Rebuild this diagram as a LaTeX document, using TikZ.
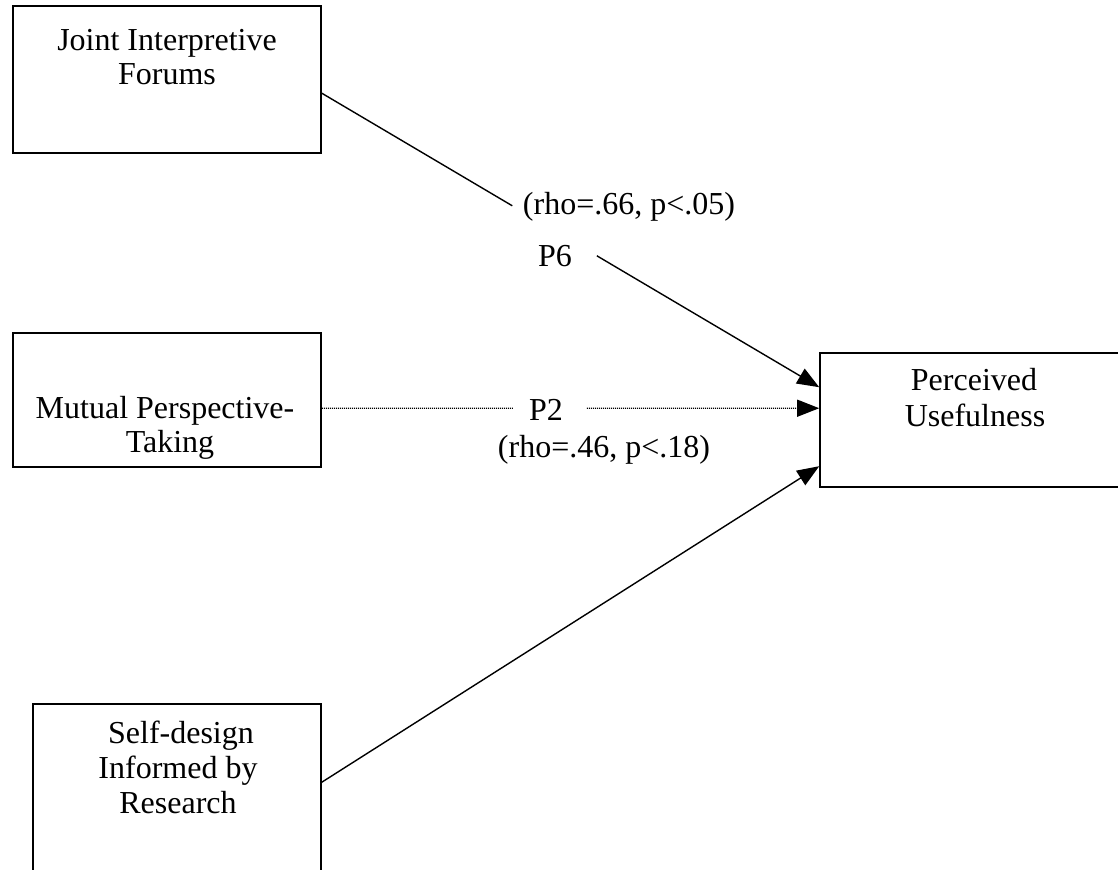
\documentclass[tikz,border=0pt]{standalone}
\usepackage{fontspec}
\setmainfont{Liberation Serif}
\usetikzlibrary{arrows.meta,calc}
\begin{document}
\begin{tikzpicture}[x=0.5pt,y=-0.5pt,
  box/.style={draw, line width=0.8pt, rectangle, inner sep=0pt},
  lbl/.style={anchor=base, inner sep=0pt, font=\fontsize{16}{17.5}\selectfont},
  conn/.style={line width=0.7pt},
  tipped/.style={-{Triangle[length=11pt,width=8.5pt]}},
  dots/.style={line width=0.6pt, dash pattern=on 0.5pt off 0.5pt}]
\clip (0,0) rectangle (1118,869);
% boxes
\node[box, minimum width=154pt, minimum height=73.5pt] (jif) at (167,79.5) {};
\node[box, minimum width=154pt, minimum height=67pt] (mpt) at (167,400) {};
\node[box, minimum width=144pt, minimum height=93pt] (sdr) at (177,797) {};
\node[box, minimum width=155pt, minimum height=67pt] (pu) at (975,420) {};
% box texts
\node[lbl] (jif1) at (167,50) {Joint Interpretive};
\node[lbl] (jif2) at (167,84) {Forums};
\node[lbl] (mpt1) at (165,418) {Mutual Perspective-};
\node[lbl] (mpt2) at (170,452) {Taking};
\node[lbl] (sdr1) at (181,743) {Self-design};
\node[lbl] (sdr2) at (178,778) {Informed by};
\node[lbl] (sdr3) at (178,813) {Research};
\node[lbl] (pu1) at (974,390) {Perceived};
\node[lbl] (pu2) at (975,426) {Usefulness};
% connector labels
\node[lbl] (r1) at (629,214) {(rho=.66, p<.05)};
\node[lbl] (p6) at (555,266) {P6};
\node[lbl] (p2) at (546,420) {P2};
\node[lbl] (r2) at (604,457) {(rho=.46, p<.18)};
% connectors
\coordinate (a) at ($(jif.north east)+(0,88)$);
\coordinate (b) at ($(pu.north west)+(0,35)$);
\draw[conn] (a) -- ($(a)!0.383!(b)$);
\draw[conn,tipped] ($(a)!0.553!(b)$) -- (b);
\coordinate (c) at ($(mpt.north east)+(0,76)$);
\coordinate (d) at ($(pu.north west)+(0,56)$);
\draw[dots] (c) -- ($(c)!0.385!(d)$);
\draw[dots,tipped] ($(c)!0.533!(d)$) -- (d);
\coordinate (e) at ($(sdr.north east)+(0,79)$);
\coordinate (f) at ($(pu.north west)+(0,114)$);
\draw[conn,tipped] (e) -- (f);
\end{tikzpicture}
\end{document}
